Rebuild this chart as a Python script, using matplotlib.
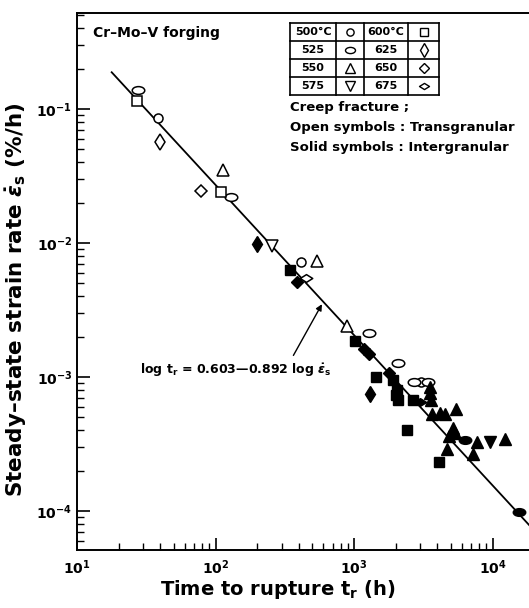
import matplotlib
matplotlib.use("Agg")
import matplotlib.pyplot as plt
import numpy as np
from matplotlib.path import Path
from matplotlib.ticker import LogLocator, NullFormatter

plt.rcParams["font.family"] = ["DejaVu Sans"]
plt.rcParams["font.weight"] = "bold"
plt.rcParams["mathtext.fontset"] = "custom"
plt.rcParams["mathtext.rm"] = "DejaVu Sans:bold"
plt.rcParams["mathtext.it"] = "DejaVu Sans:bold:italic"
plt.rcParams["mathtext.bf"] = "DejaVu Sans:bold"

# ---- data (t_r in h, strain rate in %/h) ----
# open symbols: transgranular fracture
open_temp = [525, 525, 525, 525, 525, 525, 600, 600, 500, 500, 500,
             625, 550, 550, 550, 650, 575, 675]
open_time = [27.5, 129, 1283, 2080, 2712, 3420, 27.1, 110, 38.5, 414, 3048,
             39.7, 113, 541, 889, 78.5, 256, 450]
open_rate = [0.139, 0.0220, 0.00213, 0.00127, 0.000918, 0.000918, 0.115, 0.0241,
             0.0857, 0.00722, 0.000918, 0.0568, 0.0351, 0.00734, 0.00240,
             0.0244, 0.00951, 0.00548]

# solid symbols: intergranular fracture
solid_temp = [625, 625,
              600, 600, 600, 600, 600, 600, 600, 600, 600, 600,
              650, 650, 650, 650, 675,
              550, 550, 550, 550, 550, 550, 550, 550, 550, 550, 550, 550, 550, 550,
              525, 525, 575]
solid_time = [200, 1306,
              345, 1016, 1443, 1915, 2044, 2010, 2080, 2669, 2415, 4111,
              387, 1180, 1283, 1791, 3000,
              3540, 3540, 3600, 3657, 4178, 4540, 5445, 5190, 5360, 4850, 4690,
              7230, 7730, 12300,
              6320, 15500, 9590]
solid_rate = [0.00984, 0.000746,
              0.00629, 0.00186, 0.00100, 0.000951, 0.000800, 0.000734, 0.000673,
              0.000673, 0.000402, 0.000232,
              0.00512, 0.00162, 0.00149, 0.00107, 0.000650,
              0.000841, 0.000760, 0.000673, 0.000530, 0.000538, 0.000530, 0.000577,
              0.000416, 0.000382, 0.000363, 0.000290, 0.000266, 0.000327, 0.000344,
              0.000339, 0.0000984, 0.000327]

# fitted relation: log t_r = 0.603 - 0.892 log eps_s
fit_a = 0.603
fit_b = 0.892
fit_time_range = [17.8, 18400]

legend_left = ["500°C", "525", "550", "575"]
legend_right = ["600°C", "625", "650", "675"]


def scaled_path(sx, sy, base):
    return Path(base.vertices * np.array([sx, sy]), base.codes)


ellipse = scaled_path(1.0, 0.62, Path.unit_circle())
flat_diamond = Path([(-1, 0), (0, 0.62), (1, 0), (0, -0.62), (-1, 0)],
                    [Path.MOVETO, Path.LINETO, Path.LINETO, Path.LINETO, Path.CLOSEPOLY])

# temperature -> (marker, size)
markers = {
    500: ("o", 6.5),
    525: (ellipse, 9),
    550: ("^", 8.5),
    575: ("v", 8.5),
    600: ("s", 7),
    625: ("d", 8.5),
    650: ("D", 6.5),
    675: (flat_diamond, 9),
}

W, H = 529, 608
fig = plt.figure(figsize=(W / 100, H / 100), dpi=100)
ax = fig.add_axes([77 / W, 1 - 550 / H, 452 / W, 537 / H])

ax.set_xscale("log")
ax.set_yscale("log")
ax.set_xlim(10, 10 ** (1 + 452 / 138.5))
ax.set_ylim(10 ** (-1 - 441 / 134), 10 ** (-1 + 96 / 134))

# fit line
t_line = np.logspace(np.log10(fit_time_range[0]), np.log10(fit_time_range[1]), 50)
e_line = 10 ** ((fit_a - np.log10(t_line)) / fit_b)
ax.plot(t_line, e_line, color="black", lw=1.3, zorder=2)

open_temp = np.array(open_temp)
solid_temp = np.array(solid_temp)
open_time, open_rate = np.array(open_time), np.array(open_rate)
solid_time, solid_rate = np.array(solid_time), np.array(solid_rate)

for temp, (mk, ms) in markers.items():
    m = open_temp == temp
    if m.any():
        ax.plot(open_time[m], open_rate[m], ls="none", marker=mk, ms=ms,
                mfc="white", mec="black", mew=1.1, zorder=3)
    m = solid_temp == temp
    if m.any():
        ax.plot(solid_time[m], solid_rate[m], ls="none", marker=mk, ms=ms,
                mfc="black", mec="black", mew=1.0, zorder=4)

# axes styling
for side in ["left", "bottom", "top"]:
    ax.spines[side].set_linewidth(1.4)
ax.spines["right"].set_visible(False)
ax.xaxis.set_major_locator(LogLocator(base=10, numticks=10))
ax.yaxis.set_major_locator(LogLocator(base=10, numticks=10))
ax.xaxis.set_minor_locator(LogLocator(base=10, subs=np.arange(2, 10), numticks=10))
ax.yaxis.set_minor_locator(LogLocator(base=10, subs=np.arange(2, 10), numticks=10))
ax.xaxis.set_minor_formatter(NullFormatter())
ax.yaxis.set_minor_formatter(NullFormatter())
ax.tick_params(which="major", direction="in", length=9, width=1.2, labelsize=10,
               top=False, right=False)
ax.tick_params(which="minor", direction="in", length=5, width=1.0,
               top=False, right=False)
ax.tick_params(axis="x", pad=6)

ax.set_xlabel("Time to rupture t$_\\mathrm{r}$ (h)", fontsize=14, fontweight="bold")
ax.set_ylabel("Steady–state strain rate $\\dot{\\varepsilon}_\\mathrm{s}$ (%/h)",
              fontsize=15.5, fontweight="bold")
ax.xaxis.set_label_coords((278 - 77) / 452, -(578 - 550) / 537)
ax.yaxis.set_label_coords(-(77 - 29) / 452, (550 - 300) / 537)

ax.text(0.035, 0.975, "Cr–Mo–V forging", transform=ax.transAxes,
        fontsize=10, fontweight="bold", va="top", ha="left")

# equation with arrow
t_arrow = 600
e_arrow = 10 ** ((fit_a - np.log10(t_arrow)) / fit_b)
ax.annotate("", xy=(t_arrow, e_arrow), xytext=(357, 0.00139),
            arrowprops=dict(arrowstyle="-|>", color="black", lw=1.0,
                            mutation_scale=9))
ax.text(28.5, 0.00112, "log t$_\\mathrm{r}$ = 0.603—0.892 log $\\dot{\\varepsilon}_\\mathrm{s}$",
        fontsize=9, fontweight="bold", va="center", ha="left")

# legend table (in its own pixel-unit axes)
lx0, lx1, ly0, ly1 = 290, 439, 23, 95
lg = fig.add_axes([lx0 / W, 1 - ly1 / H, (lx1 - lx0) / W, (ly1 - ly0) / H])
lg.set_xlim(0, lx1 - lx0)
lg.set_ylim(ly1 - ly0, 0)
lg.axis("off")
cols = [0, 46, 74, 118, 149]
rows = [0, 18, 36, 54, 72]
for c in cols:
    lg.plot([c, c], [0, 72], color="black", lw=1.2, clip_on=False)
for r in rows:
    lg.plot([0, 149], [r, r], color="black", lw=1.2, clip_on=False)
for i in range(4):
    yc = (rows[i] + rows[i + 1]) / 2
    tl, tr = legend_left[i], legend_right[i]
    lg.text((cols[0] + cols[1]) / 2, yc, tl, ha="center", va="center",
            fontsize=8, fontweight="bold")
    lg.text((cols[2] + cols[3]) / 2, yc, tr, ha="center", va="center",
            fontsize=8, fontweight="bold")
    tk_l = int(tl.replace("°C", ""))
    tk_r = int(tr.replace("°C", ""))
    mk, ms = markers[tk_l]
    lg.plot([(cols[1] + cols[2]) / 2], [yc], marker=mk, ms=ms * 0.8, mfc="white",
            mec="black", mew=1.0, clip_on=False)
    mk, ms = markers[tk_r]
    lg.plot([(cols[3] + cols[4]) / 2], [yc], marker=mk, ms=ms * 0.8, mfc="white",
            mec="black", mew=1.0, clip_on=False)

notes = ["Creep fracture ;", "Open symbols : Transgranular", "Solid symbols : Intergranular"]
for k, s in enumerate(notes):
    fig.text(290 / W, 1 - (108 + 20 * k) / H, s, fontsize=9.5, fontweight="bold",
             ha="left", va="center")

fig.savefig("out.png", dpi=100)
